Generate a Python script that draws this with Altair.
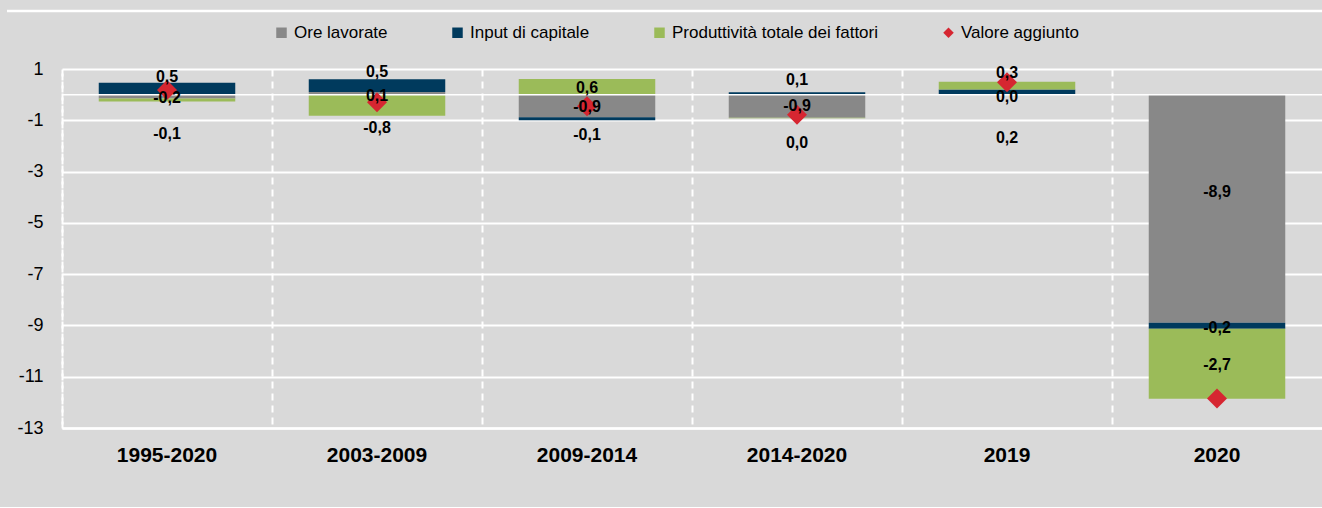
import altair as alt
import pandas as pd

# ---- data ----
categories = ["1995-2020", "2003-2009", "2009-2014", "2014-2020", "2019", "2020"]
series_names = ["Ore lavorate", "Input di capitale", "Produttività totale dei fattori", "Valore aggiunto"]
series_colors = ["#888888", "#003A5D", "#9BBB59", "#D62631"]
series_shapes = ["square", "square", "square", "diamond"]

ore = [-0.15, 0.10, -0.88, -0.90, 0.0, -8.9]
capitale = [0.46, 0.50, -0.12, 0.09, 0.20, -0.23]
ptf = [-0.12, -0.82, 0.61, -0.02, 0.30, -2.73]
valore = [0.18, -0.30, -0.45, -0.78, 0.48, -11.85]

# data-label texts as printed in the chart
ore_txt = ["-0,2", "0,1", "-0,9", "-0,9", "0,0", "-8,9"]
capitale_txt = ["0,5", "0,5", "-0,1", "0,1", "0,2", "-0,2"]
ptf_txt = ["-0,1", "-0,8", "0,6", "0,0", "0,3", "-2,7"]
# where each data label sits (value-axis units)
ore_txt_at = [-0.12, -0.04, -0.47, -0.45, -0.08, -3.8]
capitale_txt_at = [0.69, 0.87, -1.58, 0.57, -1.68, -9.1]
ptf_txt_at = [-1.54, -1.31, 0.27, -1.9, 0.83, -10.55]

y_ticks = [1, -1, -3, -5, -7, -9, -11, -13]

# ---- tables ----
rows = []
for k, (name, vals, txts, ats) in enumerate([
    (series_names[0], ore, ore_txt, ore_txt_at),
    (series_names[1], capitale, capitale_txt, capitale_txt_at),
    (series_names[2], ptf, ptf_txt, ptf_txt_at),
]):
    for i, c in enumerate(categories):
        rows.append({"cat": c, "serie": name, "val": vals[i], "ordine": k,
                     "txt": txts[i], "at": ats[i]})
bars_df = pd.DataFrame(rows)
pts_df = pd.DataFrame({"cat": categories, "serie": series_names[3], "val": valore})

FONT = "Liberation Sans, Arial, Helvetica, sans-serif"

color_scale = alt.Scale(domain=series_names, range=series_colors)
shape_scale = alt.Scale(domain=series_names, range=series_shapes)
y_scale = alt.Scale(domain=[-13, 1], nice=False, zero=False)

x_enc = alt.X(
    "cat:N", sort=categories, title=None,
    scale=alt.Scale(paddingInner=0, paddingOuter=0),
    axis=alt.Axis(
        labelFont=FONT, labelFontSize=21, labelFontWeight="bold", labelColor="#000000",
        labelPadding=16, labelAngle=0,
        domain=True, domainColor="#FFFFFF", domainWidth=2.5,
        ticks=False, grid=True, gridColor="#FFFFFF", gridWidth=2, gridDash=[7, 5],
        bandPosition=0,
    ),
)

y_axis = alt.Axis(
    values=y_ticks, labelExpr="'' + datum.value",
    labelFont=FONT, labelFontSize=18, labelColor="#000000", labelPadding=19,
    ticks=False, domain=True, domainColor="#FFFFFF", domainWidth=2, domainDash=[7, 5],
    grid=True, gridColor="#FFFFFF", gridWidth=2, title=None,
)

legend = alt.Legend(
    title=None, orient="none", direction="horizontal", legendX=211, legendY=-45,
    labelFont=FONT, labelFontSize=17, labelColor="#000000", labelOffset=4, labelLimit=0,
    symbolSize=110, symbolStrokeWidth=0, columnPadding=61, padding=0,
)

bars = alt.Chart(bars_df).mark_bar(width=alt.RelativeBandSize(0.65)).encode(
    x=x_enc,
    y=alt.Y("val:Q", stack="zero", scale=y_scale, axis=y_axis),
    color=alt.Color("serie:N", scale=color_scale, legend=legend),
    order=alt.Order("ordine:Q"),
)

zero_line = alt.Chart(pd.DataFrame({"z": [0]})).mark_rule(color="#FFFFFF", strokeWidth=1.5).encode(
    y=alt.Y("z:Q", scale=y_scale)
)

points = alt.Chart(pts_df).mark_point(filled=True, size=400, opacity=1).encode(
    x=alt.X("cat:N", sort=categories),
    y=alt.Y("val:Q", scale=y_scale),
    color=alt.Color("serie:N", scale=color_scale, legend=legend),
    shape=alt.Shape("serie:N", scale=shape_scale, legend=legend),
)

labels = alt.Chart(bars_df).mark_text(
    font=FONT, fontSize=16, fontWeight="bold", color="#000000", baseline="middle", align="center"
).encode(
    x=alt.X("cat:N", sort=categories),
    y=alt.Y("at:Q", scale=y_scale),
    text="txt:N",
)

top_line = alt.Chart(pd.DataFrame({"z": [0]})).mark_rule(color="#FFFFFF", strokeWidth=2.5).encode(
    x=alt.value(-55), x2=alt.value(1260), y=alt.value(-58)
)

chart = alt.layer(top_line, bars, zero_line, points, labels).properties(
    width=1260, height=359,
    padding={"left": 62, "top": 69, "right": 0, "bottom": 79},
    autosize=alt.AutoSizeParams(type="none"),
    background="#D9D9D9",
).configure_view(stroke=None)

chart.save("out.html", embed_options={"renderer": "svg", "actions": False})
